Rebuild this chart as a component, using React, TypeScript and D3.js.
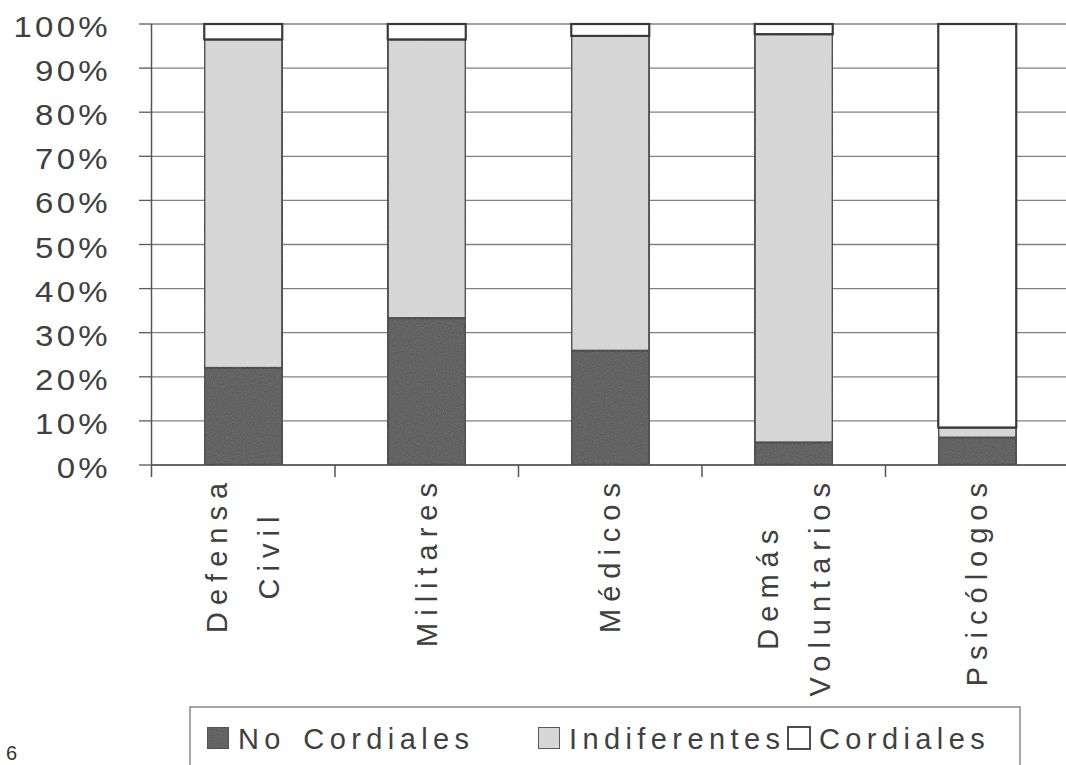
import React from "react";
import * as d3 from "d3";

const categories = ["Defensa Civil", "Militares", "Médicos", "Demás Voluntarios", "Psicólogos"];
const seriesNames = ["No Cordiales", "Indiferentes", "Cordiales"];
const noCordiales = [22.0, 33.3, 25.9, 5.1, 6.2];
const indiferentes = [74.5, 63.2, 71.4, 92.6, 2.3];
const cordiales = [3.5, 3.5, 2.7, 2.3, 91.5];
const yTicks = [0, 10, 20, 30, 40, 50, 60, 70, 80, 90, 100];
const colors = ["#555555", "#d9d9d9", "#ffffff"];

const W = 1066, H = 765;
const FONT = "'Liberation Sans', Arial, sans-serif";
const TEXT = "#404040";
const XL_SIZE = 29;
const XL_SPACING = 7;

function measure(text: string, size: number, spacing: number): number {
  const c = document.createElement("canvas").getContext("2d");
  if (!c) return text.length * size * 0.55;
  c.font = `${size}px 'Liberation Sans', Arial, sans-serif`;
  return c.measureText(text).width + spacing * text.length;
}

export default function App() {
  const rows = categories.map((c, i) => ({
    cat: c,
    "No Cordiales": noCordiales[i],
    Indiferentes: indiferentes[i],
    Cordiales: cordiales[i],
  }));
  const stack = d3.stack<any>().keys(seriesNames);
  const layers = stack(rows);

  const x = d3.scaleBand<string>().domain(categories).range([151.5, 1069]).paddingInner(0.575).paddingOuter(0.2875);
  const y = d3.scaleLinear().domain([0, 100]).range([465, 24]);
  const step = x.step();
  const boundaries = d3.range(categories.length + 1).map((i) => 151.5 + i * step);

  const legendX = [207, 538, 788];

  return (
    <svg width={W} height={H} style={{ position: "absolute", left: 0, top: 0, background: "#fff" }} fontFamily={FONT}>
      <defs>
        <filter id="grain" x="0" y="0" width="100%" height="100%">
          <feTurbulence type="fractalNoise" baseFrequency="0.9" numOctaves="2" seed="3" result="n" />
          <feColorMatrix in="n" type="matrix" values="0 0 0 0 0.5  0 0 0 0 0.5  0 0 0 0 0.5  0 0 0 0.18 0" result="g" />
          <feComposite in="g" in2="SourceGraphic" operator="in" result="gc" />
          <feMerge><feMergeNode in="SourceGraphic" /><feMergeNode in="gc" /></feMerge>
        </filter>
      </defs>
      {/* gridlines */}
      {yTicks.map((t) => (
        <line key={"g" + t} x1={151.5} x2={W} y1={y(t)} y2={y(t)} stroke="#808080" strokeWidth={1.3} />
      ))}
      {/* y ticks and labels */}
      {yTicks.map((t) => (
        <g key={"t" + t}>
          <line x1={139} x2={151.5} y1={y(t)} y2={y(t)} stroke="#5a5a5a" strokeWidth={1.3} />
          <text
            transform={`translate(111,${y(t) + 13}) scale(1.1,1)`}
            textAnchor="end"
            fontSize={30}
            letterSpacing={3}
            fill={TEXT}
          >
            {t + "%"}
          </text>
        </g>
      ))}
      {/* axes */}
      <line x1={151.5} x2={151.5} y1={y(100)} y2={477} stroke="#555" strokeWidth={1.5} />
      <line x1={151.5} x2={W} y1={y(0)} y2={y(0)} stroke="#555" strokeWidth={1.5} />
      {boundaries.slice(1).map((b, i) => (
        <line key={"xt" + i} x1={b} x2={b} y1={y(0)} y2={477} stroke="#555" strokeWidth={1.5} />
      ))}
      {/* bars */}
      {layers.map((layer, li) => (
        <g key={layer.key}>
          {layer.map((d, i) => (
            <rect
              key={i}
              x={x(categories[i])!}
              y={y(d[1])}
              width={x.bandwidth()}
              height={y(d[0]) - y(d[1])}
              fill={colors[li]}
              filter={li < 2 ? "url(#grain)" : undefined}
              stroke="#3a3a3a"
              strokeWidth={2.2}
            />
          ))}
        </g>
      ))}
      {/* x labels */}
      {categories.map((c) => {
        const lines = c.split(" ");
        const cx = x(c)! + x.bandwidth() / 2;
        const lineGap = 52;
        const maxLen = Math.max(...lines.map((l) => measure(l, XL_SIZE, XL_SPACING)));
        const multi = lines.length > 1;
        return (
          <g key={"xl" + c} transform={`translate(${cx},476) rotate(-90)`}>
            {lines.map((ln, j) => (
              <text
                key={j}
                x={multi ? -maxLen / 2 : 0}
                y={(j - (lines.length - 1) / 2) * lineGap + 10}
                textAnchor={multi ? "middle" : "end"}
                fontSize={XL_SIZE}
                letterSpacing={XL_SPACING}
                fill={TEXT}
              >
                {ln}
              </text>
            ))}
          </g>
        );
      })}
      {/* legend */}
      <rect x={190} y={707} width={830} height={80} fill="#fff" stroke="#777" strokeWidth={1.3} />
      {seriesNames.map((s, i) => (
        <g key={"lg" + s}>
          <rect x={legendX[i]} y={727} width={22} height={22} fill={colors[i]} stroke="#3a3a3a" strokeWidth={1.8} filter={i < 2 ? "url(#grain)" : undefined} />
          <text x={legendX[i] + 31} y={749} fontSize={29} letterSpacing={5.4} wordSpacing={4} fill={TEXT}>
            {s}
          </text>
        </g>
      ))}
      <text x={6} y={760} fontSize={20} fill="#333">6</text>
    </svg>
  );
}
